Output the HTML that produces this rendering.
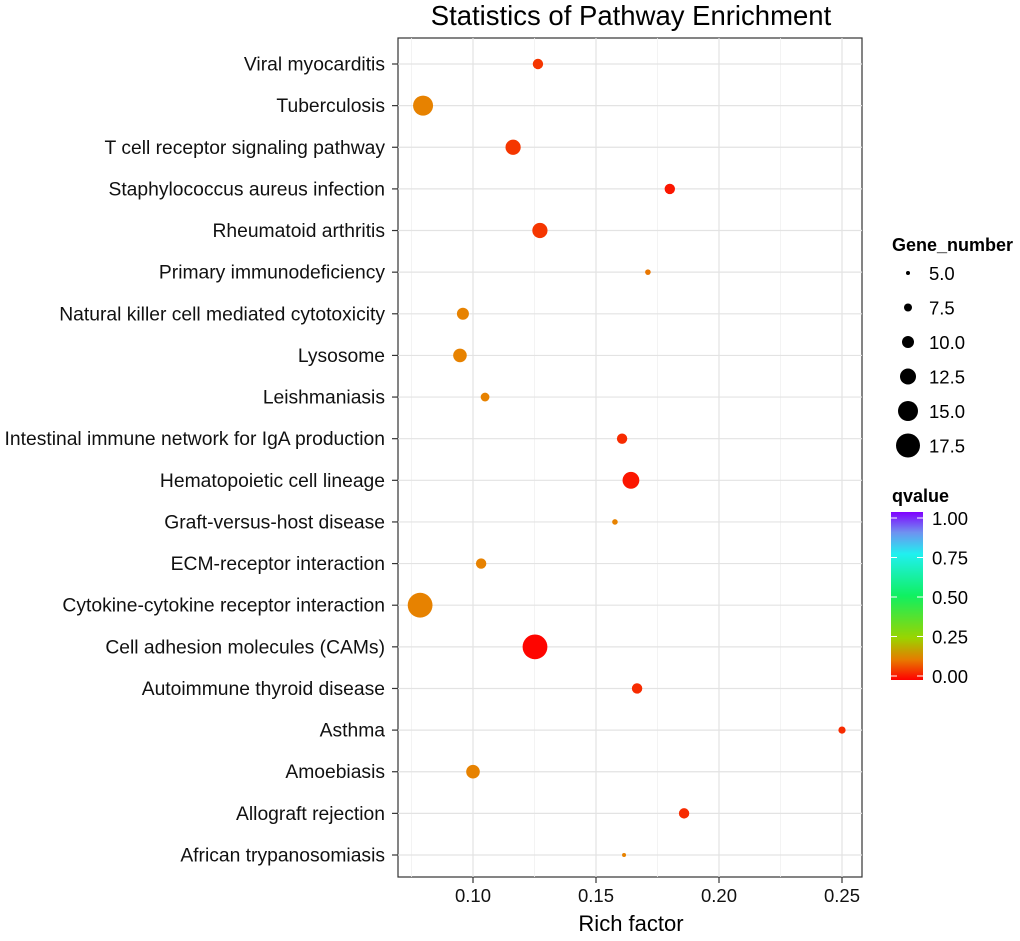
<!DOCTYPE html>
<html><head><meta charset="utf-8"><style>
body{margin:0;background:#fff;font-family:"Liberation Sans",Arial,sans-serif}
svg text{font-family:"Liberation Sans",Arial,sans-serif}
</style></head><body>
<svg id="c" width="1020" height="936" xmlns="http://www.w3.org/2000/svg">
<defs>
<linearGradient id="qg" x1="0" y1="1" x2="0" y2="0">
<stop offset="0" stop-color="#ff0000"/><stop offset="0.12" stop-color="#e77a00"/><stop offset="0.25" stop-color="#9ad400"/><stop offset="0.5" stop-color="#10f060"/><stop offset="0.75" stop-color="#20f0f0"/><stop offset="0.88" stop-color="#7090f0"/><stop offset="1" stop-color="#8000ff"/>
</linearGradient>
</defs>
<text x="631" y="25" font-size="27.5" text-anchor="middle">Statistics of Pathway Enrichment</text>
<rect x="398" y="38" width="464" height="839" fill="#fff" stroke="#333" stroke-width="1.2"/>
<g id="grid"></g><g id="pts"></g><g id="axes"></g>
<text x="631" y="931" font-size="22" text-anchor="middle">Rich factor</text>
<text x="892" y="251" font-size="18" font-weight="bold">Gene_number</text>
<g id="sleg"></g>
<text x="892" y="502" font-size="18" font-weight="bold">qvalue</text>
<rect x="891" y="512" width="32" height="168" fill="url(#qg)"/>
<g id="cleg"></g>
</svg>
<script>
const categories=["Viral myocarditis","Tuberculosis","T cell receptor signaling pathway","Staphylococcus aureus infection","Rheumatoid arthritis","Primary immunodeficiency","Natural killer cell mediated cytotoxicity","Lysosome","Leishmaniasis","Intestinal immune network for IgA production","Hematopoietic cell lineage","Graft-versus-host disease","ECM-receptor interaction","Cytokine-cytokine receptor interaction","Cell adhesion molecules (CAMs)","Autoimmune thyroid disease","Asthma","Amoebiasis","Allograft rejection","African trypanosomiasis"];
const richFactor=[0.1264,0.0797,0.1163,0.180,0.1272,0.1711,0.0959,0.0947,0.1049,0.1606,0.1642,0.1577,0.1033,0.0785,0.1252,0.1667,0.250,0.100,0.1858,0.1614];
const geneNumber=[9,15,12,9,12,6,10,11,8,9,13,6,9,18,18,9,7,11,9,5];
const qvalue=[0.05,0.12,0.05,0.02,0.05,0.11,0.12,0.12,0.12,0.04,0.02,0.12,0.12,0.12,0.005,0.04,0.04,0.12,0.04,0.12];
const xTicks=[0.10,0.15,0.20,0.25];
const xTickLabels=["0.10","0.15","0.20","0.25"];
const sizeLegend=[5,7.5,10,12.5,15,17.5];
const qTicks=[0,0.25,0.5,0.75,1];
const NS="http://www.w3.org/2000/svg";
function mk(p,t,a){const e=document.createElementNS(NS,t);for(const k in a)e.setAttribute(k,a[k]);p.appendChild(e);return e;}
const X=v=>473+(v-0.10)*2460;
const Y=i=>64+i*(855-64)/19;
const R=g=>Math.max(1.5,0.8*g-2);
const stops=[[0,[255,0,0]],[0.12,[231,130,0]],[0.25,[154,212,0]],[0.5,[16,240,96]],[0.75,[32,240,240]],[0.88,[112,144,240]],[1,[128,0,255]]];
function qc(q){for(let i=1;i<stops.length;i++){if(q<=stops[i][0]){const a=stops[i-1],b=stops[i];const t=(q-a[0])/(b[0]-a[0]);
const c=a[1].map((v,j)=>Math.round(v+(b[1][j]-v)*t));return 'rgb('+c.join(',')+')';}}return 'rgb(128,0,255)';}
const grid=document.getElementById('grid'),pts=document.getElementById('pts'),axes=document.getElementById('axes');
for(let v=0.075;v<=0.2751;v+=0.025){const x=X(v);if(x<398||x>862)continue;const major=Math.abs(v*20-Math.round(v*20))<1e-6;
const l=mk(grid,'line',{x1:x,x2:x,y1:38,y2:877,stroke:major?'#e3e3e3':'#f0f0f0','stroke-width':major?1.2:0.8});

}
categories.forEach((c,i)=>{const y=Y(i);
const g=mk(grid,'line',{x1:398,x2:862,y1:y,y2:y,stroke:'#e3e3e3','stroke-width':1.2});


const t=mk(axes,'line',{x1:392,x2:398,y1:y,y2:y,stroke:'#333','stroke-width':1.2});


const lb=mk(axes,'text',{x:385,y:y+6.5,'font-size':19.3,'text-anchor':'end',fill:'#111'});lb.textContent=c;


const p=mk(pts,'circle',{cx:X(richFactor[i]),cy:y,r:R(geneNumber[i]),fill:qc(qvalue[i])});

});
xTicks.forEach((v,i)=>{const x=X(v);
const t=mk(axes,'line',{x1:x,x2:x,y1:877,y2:883,stroke:'#333','stroke-width':1.2});


const lb=mk(axes,'text',{x:x,y:902,'font-size':18.5,'text-anchor':'middle',fill:'#111'});lb.textContent=xTickLabels[i];

});
const sl=document.getElementById('sleg');
sizeLegend.forEach((g,i)=>{const y=273+i*34.5;
const c=mk(sl,'circle',{cx:908,cy:y,r:R(g),fill:'#000'});


const t=mk(sl,'text',{x:929,y:y+7,'font-size':18.5});t.textContent=g.toFixed(1);

});
const cl=document.getElementById('cleg');
qTicks.forEach(q=>{const y=676-q*158;
const a=mk(cl,'line',{x1:891,x2:897,y1:y,y2:y,stroke:'#fff','stroke-width':1});


const b=mk(cl,'line',{x1:917,x2:923,y1:y,y2:y,stroke:'#fff','stroke-width':1});


const t=mk(cl,'text',{x:932,y:y+7,'font-size':18.5});t.textContent=q.toFixed(2);

});
</script>
</body></html>
